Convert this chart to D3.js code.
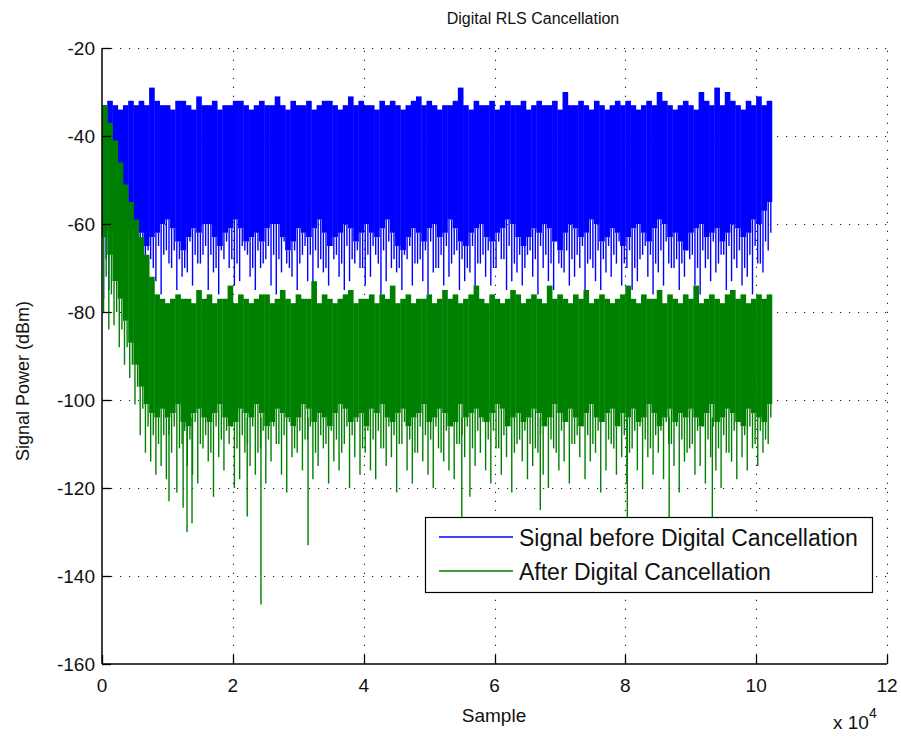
<!DOCTYPE html>
<html>
<head>
<meta charset="utf-8">
<script src="https://cdn.jsdelivr.net/npm/d3@7"></script>
<style>
  html, body { margin: 0; padding: 0; background: #fff; }
  svg { display: block; font-family: "Liberation Sans", Arial, sans-serif; }
</style>
</head>
<body>
<svg id="chart" width="901" height="740"></svg>
<script>
// ---------------- DATA ----------------
const title = "Digital RLS Cancellation";
const xLabel = "Sample";
const yLabel = "Signal Power (dBm)";
const seriesNames = ["Signal before Digital Cancellation", "After Digital Cancellation"];
const xTicks = [0, 20000, 40000, 60000, 80000, 100000, 120000];
const xTickLabels = ["0", "2", "4", "6", "8", "10", "12"];
const yTicks = [-160, -140, -120, -100, -80, -60, -40, -20];
const samplesPerBin = 800;   // 128 bins x 800 samples = 102400 samples

// Blue: signal before digital cancellation (per-bin envelope, dBm)
const blueTop = [
  -33,-32,-33,-34,-33,-32,-33,-32,-33,-29,
  -32,-33,-33,-34,-32,-32,-33,-34,-31,-33,
  -33,-32,-34,-33,-33,-32,-32,-33,-34,-33,
  -32,-33,-33,-31,-33,-34,-32,-33,-33,-32,
  -34,-33,-32,-32,-33,-34,-33,-31,-33,-32,
  -33,-33,-34,-32,-33,-32,-33,-34,-33,-32,
  -31,-33,-32,-33,-34,-33,-33,-32,-29,-33,
  -34,-32,-33,-33,-32,-34,-33,-32,-33,-33,
  -32,-34,-33,-32,-33,-33,-32,-34,-30,-33,
  -33,-32,-33,-34,-32,-33,-34,-33,-32,-33,
  -32,-33,-34,-33,-32,-33,-30,-32,-33,-34,
  -33,-32,-33,-34,-30,-32,-33,-29,-33,-30,
  -32,-33,-34,-32,-33,-31,-33,-32
];
const blueBand = [
  -61,-60,-62,-64,-63,-61,-60,-62,-65,-63,
  -62,-60,-59,-61,-64,-66,-63,-61,-62,-60,
  -60,-63,-65,-62,-61,-59,-61,-64,-63,-62,
  -64,-61,-60,-60,-63,-66,-64,-61,-62,-63,
  -61,-59,-62,-65,-63,-62,-60,-61,-64,-62,
  -60,-62,-63,-61,-59,-62,-65,-66,-63,-61,
  -62,-64,-61,-60,-63,-62,-59,-61,-64,-65,
  -62,-61,-60,-63,-64,-62,-61,-59,-60,-63,
  -65,-63,-61,-62,-60,-61,-64,-66,-62,-60,
  -61,-63,-62,-59,-60,-64,-63,-61,-62,-65,
  -63,-61,-60,-62,-64,-61,-59,-60,-63,-62,
  -64,-66,-62,-61,-60,-63,-62,-61,-64,-62,
  -60,-61,-63,-62,-59,-60,-57,-55
];
const blueLow = [
  -77,-75,-70,-74,-73,-69,-76,-71,-72,-68,
  -73,-76,-66,-70,-75,-72,-71,-74,-69,-67,
  -75,-71,-76,-68,-70,-74,-73,-66,-72,-75,
  -70,-68,-74,-76,-71,-69,-72,-75,-67,-73,
  -76,-70,-71,-74,-68,-72,-75,-73,-69,-70,
  -74,-72,-67,-76,-73,-70,-71,-75,-68,-74,
  -69,-73,-76,-71,-70,-74,-72,-67,-75,-73,
  -71,-76,-69,-72,-74,-70,-68,-75,-73,-71,
  -74,-67,-72,-76,-70,-73,-75,-69,-71,-74,
  -72,-70,-76,-68,-73,-75,-71,-72,-69,-74,
  -70,-75,-73,-67,-72,-76,-71,-74,-69,-70,
  -75,-72,-68,-74,-76,-70,-73,-71,-67,-75,
  -73,-70,-74,-72,-76,-69,-71,-66
];
const blueMid = [
  -68,-66,-70,-65,-67,-69,-64,-68,-66,-70,
  -65,-67,-69,-66,-68,-70,-64,-67,-69,-65,
  -67,-70,-66,-64,-68,-69,-65,-67,-70,-66,
  -69,-65,-67,-68,-64,-70,-66,-69,-65,-67,
  -66,-68,-70,-64,-67,-69,-65,-68,-66,-70,
  -67,-65,-69,-66,-64,-68,-70,-67,-65,-69,
  -68,-66,-64,-70,-67,-65,-69,-66,-68,-70,
  -65,-69,-67,-66,-70,-64,-68,-65,-69,-67,
  -70,-66,-68,-65,-67,-69,-64,-70,-66,-68,
  -67,-65,-69,-70,-66,-68,-65,-67,-64,-69,
  -66,-70,-68,-65,-67,-69,-66,-64,-70,-68,
  -69,-65,-67,-70,-66,-68,-64,-69,-67,-65,
  -68,-66,-70,-67,-65,-69,-64,-62
];

// Green: after digital cancellation (per-bin envelope, dBm)
const greenTop = [
  -33,-37,-41,-46,-51,-55,-59,-63,-67,-72,-76,-77,
  -78,-77,-76,-77,-77,-78,-75,-77,-76,-78,
  -77,-77,-74,-78,-76,-77,-78,-77,-76,-76,
  -78,-77,-75,-77,-78,-76,-77,-77,-73,-78,
  -76,-77,-78,-77,-76,-75,-78,-77,-77,-76,
  -78,-76,-77,-74,-78,-77,-76,-78,-77,-77,
  -76,-78,-77,-75,-77,-76,-78,-77,-76,-74,
  -77,-78,-76,-77,-78,-77,-75,-76,-78,-77,
  -76,-77,-78,-74,-77,-76,-77,-78,-76,-77,
  -75,-78,-77,-76,-77,-78,-77,-76,-74,-77,
  -78,-76,-77,-77,-75,-78,-76,-77,-78,-76,
  -77,-74,-78,-77,-76,-77,-78,-76,-75,-77,
  -76,-78,-77,-76,-77,-76
];
const greenBand = [
  -63,-67,-73,-77,-82,-87,-92,-97,-101,-103,-104,-102,
  -104,-103,-101,-105,-106,-103,-102,-104,-105,-103,
  -101,-104,-106,-105,-102,-103,-104,-101,-103,-106,
  -105,-102,-103,-104,-106,-104,-101,-102,-105,-103,
  -104,-106,-103,-101,-102,-105,-104,-103,-106,-102,
  -103,-101,-104,-105,-103,-102,-106,-104,-103,-101,
  -105,-104,-102,-103,-106,-105,-101,-104,-103,-102,
  -104,-105,-103,-101,-102,-106,-104,-103,-105,-104,
  -102,-103,-106,-104,-101,-103,-105,-102,-104,-106,
  -103,-101,-104,-105,-103,-102,-106,-103,-104,-102,
  -105,-104,-101,-103,-106,-104,-102,-105,-103,-104,
  -102,-104,-106,-103,-101,-105,-104,-102,-103,-105,
  -106,-102,-103,-104,-105,-101
];
const greenLow = [
  -80,-84,-83,-88,-92,-95,-101,-108,-112,-114,-117,-115,
  -118,-112,-121,-110,-115,-117,-119,-111,-114,-122,
  -113,-116,-110,-120,-118,-112,-115,-117,-111,-119,
  -114,-110,-117,-121,-113,-112,-116,-109,-118,-115,
  -111,-119,-114,-116,-110,-120,-113,-117,-112,-116,
  -118,-111,-115,-113,-121,-110,-116,-119,-112,-114,
  -117,-120,-111,-114,-116,-118,-110,-113,-122,-115,
  -112,-116,-119,-111,-117,-113,-121,-110,-114,-118,
  -115,-112,-117,-120,-111,-116,-114,-119,-110,-113,
  -118,-114,-112,-121,-116,-110,-117,-113,-119,-111,
  -116,-120,-113,-117,-112,-118,-110,-115,-121,-114,
  -111,-117,-115,-119,-113,-116,-120,-112,-114,-118,
  -113,-116,-111,-115,-112,-110
];
const greenMid = [
  -72,-76,-80,-84,-88,-92,-97,-102,-106,-108,-110,-108,
  -108,-106,-111,-107,-109,-105,-110,-108,-112,-106,
  -109,-107,-105,-111,-108,-110,-106,-112,-107,-109,
  -106,-110,-108,-105,-111,-107,-109,-106,-112,-108,
  -110,-107,-109,-112,-106,-108,-105,-111,-107,-109,
  -107,-111,-106,-108,-110,-105,-109,-112,-106,-108,
  -109,-106,-112,-107,-105,-110,-108,-106,-111,-107,
  -105,-109,-107,-111,-108,-106,-112,-109,-107,-110,
  -111,-108,-106,-109,-112,-107,-105,-110,-108,-106,
  -108,-110,-107,-105,-109,-111,-106,-108,-112,-107,
  -106,-109,-111,-108,-107,-105,-110,-106,-109,-112,
  -110,-107,-105,-109,-106,-111,-108,-112,-107,-105,
  -108,-106,-110,-107,-109,-104
];
// isolated deep dips of the green trace: sample index, dBm
const greenDipSamples = [10240, 12400, 13000, 13760, 22200, 24300, 31500, 55000, 67000, 80300, 86700, 93300];
const greenDipValues  = [-123, -124.5, -130, -128, -126.5, -146.5, -133, -127, -125, -128, -127, -127];

// ---------------- CHART ----------------
const svg = d3.select("#chart");
const plot = { left: 102, right: 887, top: 48, bottom: 664 };
const blue = "#0000ff", green = "#008000";

const x = d3.scaleLinear().domain([0, 120000]).range([plot.left, plot.right]);
const y = d3.scaleLinear().domain([-160, -20]).range([plot.bottom, plot.top]);

// grid (behind data)
const grid = svg.append("g").attr("stroke", "#222").attr("stroke-width", 1.1)
  .attr("stroke-dasharray", "1.2,7.8");
grid.selectAll("line.gx").data(xTicks.slice(1)).join("line")
  .attr("x1", d => Math.round(x(d)) + 0.5).attr("x2", d => Math.round(x(d)) + 0.5)
  .attr("y1", plot.bottom).attr("y2", plot.top);
grid.selectAll("line.gy").data(yTicks.slice(1)).join("line")
  .attr("y1", d => Math.round(y(d)) + 0.5).attr("y2", d => Math.round(y(d)) + 0.5)
  .attr("x1", plot.left).attr("x2", plot.right);

function drawSeries(top, band, low, mid, color) {
  const g = svg.append("g");
  const idx = d3.range(top.length);
  g.selectAll("rect").data(idx).join("rect")
    .attr("x", i => x(i * samplesPerBin))
    .attr("width", i => x((i + 1) * samplesPerBin) - x(i * samplesPerBin) + 0.4)
    .attr("y", i => y(top[i]))
    .attr("height", i => Math.max(0, y(band[i]) - y(top[i])))
    .attr("fill", color);
  g.selectAll("line.lo").data(idx).join("line").attr("class", "lo")
    .attr("x1", i => x((i + 0.3) * samplesPerBin)).attr("x2", i => x((i + 0.3) * samplesPerBin))
    .attr("y1", i => y(band[i])).attr("y2", i => y(low[i]))
    .attr("stroke", color).attr("stroke-width", 1.4);
  g.selectAll("line.mi").data(idx).join("line").attr("class", "mi")
    .attr("x1", i => x((i + 0.8) * samplesPerBin)).attr("x2", i => x((i + 0.8) * samplesPerBin))
    .attr("y1", i => y(band[i])).attr("y2", i => y(mid[i]))
    .attr("stroke", color).attr("stroke-width", 1.4);
  return g;
}
drawSeries(blueTop, blueBand, blueLow, blueMid, blue);
const gg = drawSeries(greenTop, greenBand, greenLow, greenMid, green);
gg.selectAll("line.dip").data(greenDipSamples).join("line").attr("class", "dip")
  .attr("x1", d => x(d)).attr("x2", d => x(d))
  .attr("y1", y(-104)).attr("y2", (d, i) => y(greenDipValues[i]))
  .attr("stroke", green).attr("stroke-width", 1.4);

// axes (left & bottom, ticks inward)
const axG = svg.append("g").attr("font-size", 19).attr("fill", "#111");
axG.append("line").attr("x1", plot.left).attr("x2", plot.left)
  .attr("y1", plot.top).attr("y2", plot.bottom).attr("stroke", "#000").attr("stroke-width", 1.5);
axG.append("line").attr("x1", plot.left).attr("x2", plot.right)
  .attr("y1", plot.bottom).attr("y2", plot.bottom).attr("stroke", "#000").attr("stroke-width", 1.5);
axG.selectAll("line.tx").data(xTicks).join("line").attr("class", "tx")
  .attr("x1", d => Math.round(x(d)) + 0.5).attr("x2", d => Math.round(x(d)) + 0.5)
  .attr("y1", plot.bottom).attr("y2", plot.bottom - 9).attr("stroke", "#000").attr("stroke-width", 1.3);
axG.selectAll("line.ty").data(yTicks).join("line").attr("class", "ty")
  .attr("y1", d => Math.round(y(d)) + 0.5).attr("y2", d => Math.round(y(d)) + 0.5)
  .attr("x1", plot.left).attr("x2", plot.left + 9).attr("stroke", "#000").attr("stroke-width", 1.3);
axG.selectAll("text.tx").data(xTicks).join("text").attr("class", "tx")
  .attr("x", d => x(d)).attr("y", plot.bottom + 28).attr("text-anchor", "middle")
  .text((d, i) => xTickLabels[i]);
axG.selectAll("text.ty").data(yTicks).join("text").attr("class", "ty")
  .attr("x", plot.left - 7).attr("y", d => y(d) + 7).attr("text-anchor", "end")
  .text(d => d);

// exponent label
const ex = svg.append("text").attr("x", 833).attr("y", 729).attr("font-size", 19).attr("fill", "#111");
ex.append("tspan").text("x 10");
ex.append("tspan").attr("dy", -11).attr("font-size", 14).text("4");

// titles
svg.append("text").attr("x", 533).attr("y", 24).attr("text-anchor", "middle")
  .attr("font-size", 16).attr("fill", "#111").text(title);
svg.append("text").attr("x", 494).attr("y", 722).attr("text-anchor", "middle")
  .attr("font-size", 19).attr("fill", "#111").text(xLabel);
svg.append("text").attr("transform", "translate(29,381) rotate(-90)").attr("text-anchor", "middle")
  .attr("font-size", 18).attr("fill", "#111").text(yLabel);

// legend
const lg = svg.append("g");
lg.append("rect").attr("x", 425.5).attr("y", 517.5).attr("width", 447).attr("height", 75)
  .attr("fill", "#fff").attr("stroke", "#000").attr("stroke-width", 1.2);
const lColors = [blue, green];
seriesNames.forEach((name, i) => {
  const yy = 537 + i * 34;
  lg.append("line").attr("x1", 439).attr("x2", 513).attr("y1", yy).attr("y2", yy)
    .attr("stroke", lColors[i]).attr("stroke-width", 1.5);
  lg.append("text").attr("x", 519).attr("y", yy + 9).attr("font-size", 23).attr("fill", "#111").text(name);
});
</script>
</body>
</html>
